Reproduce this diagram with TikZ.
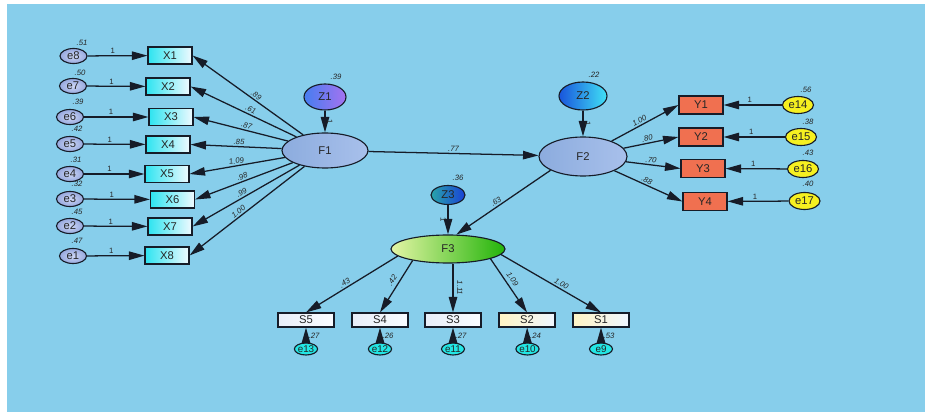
\documentclass[tikz,border=0pt]{standalone}
\usepackage{fontspec}
\setmainfont{Liberation Sans}
\usetikzlibrary{arrows.meta,shapes.geometric}
\definecolor{bg}{RGB}{135,206,235}
\definecolor{lineC}{RGB}{22,28,40}
\definecolor{eIn}{RGB}{205,215,245}
\definecolor{eOut}{RGB}{150,168,222}
\definecolor{xL}{RGB}{45,228,240}
\definecolor{xR}{RGB}{240,250,255}
\definecolor{fL}{RGB}{140,172,222}
\definecolor{fR}{RGB}{168,192,235}
\definecolor{zaL}{RGB}{70,125,240}
\definecolor{zaR}{RGB}{165,115,240}
\definecolor{zbL}{RGB}{25,85,220}
\definecolor{zbR}{RGB}{65,225,245}
\definecolor{zcL}{RGB}{40,165,170}
\definecolor{zcR}{RGB}{25,65,215}
\definecolor{gL}{RGB}{228,245,165}
\definecolor{gR}{RGB}{35,180,10}
\definecolor{yC}{RGB}{240,112,80}
\definecolor{yel}{RGB}{246,240,32}
\definecolor{sL}{RGB}{232,238,248}
\definecolor{sR}{RGB}{250,252,255}
\definecolor{tL}{RGB}{255,244,196}
\definecolor{tR}{RGB}{240,246,255}
\definecolor{cy}{RGB}{35,230,228}
\tikzset{
  base/.style={draw=lineC, line width=0.8pt, inner sep=0pt, text=black!85,
    font=\fontsize{8}{9}\selectfont},
  evar/.style={base, ellipse, minimum width=6.75mm, minimum height=3.75mm,
    inner color=eIn, outer color=eOut},
  xbox/.style={base, rectangle, minimum width=11mm, minimum height=4.25mm,
    left color=xL, right color=xR},
  ybox/.style={base, rectangle, minimum width=11mm, minimum height=4.5mm, fill=yC},
  yvar/.style={base, ellipse, minimum width=7.75mm, minimum height=4.25mm, fill=yel},
  sbox/.style={base, rectangle, minimum width=14mm, minimum height=3.5mm,
    left color=sL, right color=sR},
  tbox/.style={base, rectangle, minimum width=14mm, minimum height=3.5mm,
    left color=tL, right color=tR},
  svar/.style={base, ellipse, minimum width=5.75mm, minimum height=3mm, fill=cy,
    font=\fontsize{7}{8}\selectfont},
  lat/.style={base, ellipse, left color=fL, right color=fR},
  arr/.style={draw=lineC, line width=0.9pt, -{Triangle[length=11pt,width=6pt]}},
  lab/.style={font=\fontsize{5.5}{6}\selectfont\itshape, inner sep=1pt, text=black!85},
  one/.style={font=\fontsize{5.5}{6}\selectfont, inner sep=1pt, text=black!85},
}
\begin{document}
\begin{tikzpicture}[x=0.25mm, y=-0.25mm]
\useasboundingbox (0,0) rectangle (925,412);
\fill[white] (0,0) rectangle (925,412);
\fill[bg] (7,4) rectangle (925,412);

% left error terms and indicators
\node[evar] (e8) at (73.5,56) {e8};
\node[evar] (e7) at (73,86) {e7};
\node[evar] (e6) at (70,117) {e6};
\node[evar] (e5) at (70,144) {e5};
\node[evar] (e4) at (70,174) {e4};
\node[evar] (e3) at (70,199) {e3};
\node[evar] (e2) at (70,226) {e2};
\node[evar] (e1) at (73,256) {e1};

\node[xbox] (X1) at (170,55.5) {X1};
\node[xbox] (X2) at (168,86.5) {X2};
\node[xbox] (X3) at (171,117) {X3};
\node[xbox] (X4) at (168,144.5) {X4};
\node[xbox] (X5) at (167,174) {X5};
\node[xbox] (X6) at (172.5,199.5) {X6};
\node[xbox] (X7) at (170,226.5) {X7};
\node[xbox] (X8) at (167,255.5) {X8};

\node[lab] (v8) at (82,43) {.51};
\node[lab] (v7) at (80,73) {.50};
\node[lab] (v6) at (78,102) {.39};
\node[lab] (v5) at (77,129) {.42};
\node[lab] (v4) at (76,160) {.31};
\node[lab] (v3) at (77,184) {.32};
\node[lab] (v2) at (77,212) {.45};
\node[lab] (v1) at (77,241) {.47};

\foreach \e/\x in {e8/X1,e7/X2,e6/X3,e5/X4,e4/X5,e3/X6,e2/X7,e1/X8}
  \draw[arr] (\e) -- (\x) node[one, pos=0.42, above] {1};

% F1
\node[lat, minimum width=21.5mm, minimum height=8.75mm] (F1) at (325,150.5) {F1};
\node[base, ellipse, minimum width=10.5mm, minimum height=6.5mm,
  left color=zaL, right color=zaR] (Z1) at (325,97) {Z1};
\node[lab] (vz1) at (336,77) {.39};
\draw[arr] (Z1) -- (F1) node[one, midway, sloped, above] {1};

\draw[arr] (F1) -- (X1.east) node[lab, pos=0.45, sloped, above] {.89};
\draw[arr] (F1) -- (X2.east) node[lab, pos=0.45, sloped, above] {.61};
\draw[arr] (F1) -- (X3.east) node[lab, pos=0.45, sloped, above] {.87};
\draw[arr] (F1) -- (X4.east) node[lab, pos=0.47, sloped, above] {.85};
\draw[arr] (F1) -- (X5.east) node[lab, pos=0.5, sloped, above] {1.09};
\draw[arr] (F1) -- (X6.east) node[lab, pos=0.5, sloped, above] {.98};
\draw[arr] (F1) -- (X7.east) node[lab, pos=0.52, sloped, above] {.99};
\draw[arr] (F1) -- (X8.east) node[lab, pos=0.55, sloped, above] {1.00};

% F2
\node[lat, minimum width=22mm, minimum height=9.75mm] (F2) at (583,156.5) {F2};
\node[base, ellipse, minimum width=12mm, minimum height=7mm,
  left color=zbL, right color=zbR] (Z2) at (583,96) {Z2};
\node[lab] (vz2) at (594,75) {.22};
\draw[arr] (Z2) -- (F2) node[one, midway, sloped, above] {1};
\draw[arr] (F1) -- (F2) node[lab, midway, above] {.77};

\node[ybox] (Y1) at (701,105) {Y1};
\node[ybox] (Y2) at (701,137) {Y2};
\node[ybox] (Y3) at (703,168.5) {Y3};
\node[ybox] (Y4) at (705,201.5) {Y4};
\node[yvar] (e14) at (798,105) {e14};
\node[yvar] (e15) at (801,137) {e15};
\node[yvar] (e16) at (803,169) {e16};
\node[yvar] (e17) at (804.5,201) {e17};
\node[lab] (v14) at (806,90) {.56};
\node[lab] (v15) at (808,122) {.38};
\node[lab] (v16) at (808,153) {.43};
\node[lab] (v17) at (808,184) {.40};
\foreach \e/\y in {e14/Y1,e15/Y2,e16/Y3,e17/Y4}
  \draw[arr] (\e) -- (\y) node[one, pos=0.55, above] {1};

\draw[arr] (F2) -- (Y1.west) node[lab, pos=0.45, sloped, above] {1.00};
\draw[arr] (F2) -- (Y2.west) node[lab, pos=0.45, sloped, above] {.80};
\draw[arr] (F2) -- (Y3.west) node[lab, pos=0.45, sloped, above] {.70};
\draw[arr] (F2) -- (Y4.west) node[lab, pos=0.45, sloped, above] {.88};

% F3
\node[base, ellipse, minimum width=28.5mm, minimum height=7mm,
  left color=gL, right color=gR] (F3) at (448,249) {F3};
\node[base, ellipse, minimum width=8.5mm, minimum height=4.75mm,
  left color=zcL, right color=zcR] (Z3) at (448,195) {Z3};
\node[lab] (vz3) at (458,178) {.36};
\draw[arr] (Z3) -- (F3) node[one, midway, sloped, below] {1};
\draw[arr] (F2.203) -- (F3.60) node[lab, pos=0.55, sloped, above] {.63};

\node[sbox] (S5) at (306,320) {S5};
\node[sbox] (S4) at (380,320) {S4};
\node[sbox] (S3) at (453,320) {S3};
\node[tbox] (S2) at (527,320) {S2};
\node[tbox] (S1) at (601,320) {S1};

\draw[arr] (F3.188) -- (S5.north) node[lab, pos=0.55, sloped, above] {.43};
\draw[arr] (F3.198) -- (S4.north) node[lab, pos=0.45, sloped, above=1.5pt] {.42};
\draw[arr] (F3.south -| S3.north) -- (S3.north) node[lab, pos=0.5, sloped, above=1.5pt] {1.11};
\draw[arr] (F3.347) -- (S2.north) node[lab, pos=0.45, sloped, above=1.5pt] {1.09};
\draw[arr] (F3.354) -- (S1.north) node[lab, pos=0.58, sloped, above] {1.00};

\node[svar] (e13) at (306,349) {e13};
\node[svar] (e12) at (380,349) {e12};
\node[svar] (e11) at (453,349) {e11};
\node[svar] (e10) at (527.5,349) {e10};
\node[svar] (e9) at (601,349) {e9};
\draw[arr] (e13) -- (S5);
\draw[arr] (e12) -- (S4);
\draw[arr] (e11) -- (S3);
\draw[arr] (e10) -- (S2);
\draw[arr] (e9) -- (S1);
\node[lab] (v13) at (314,336) {.27};
\node[lab] (v12) at (388,336) {.26};
\node[lab] (v11) at (461,336) {.27};
\node[lab] (v10) at (535.5,336) {.24};
\node[lab] (v9) at (609,336) {.53};
\end{tikzpicture}
\end{document}
